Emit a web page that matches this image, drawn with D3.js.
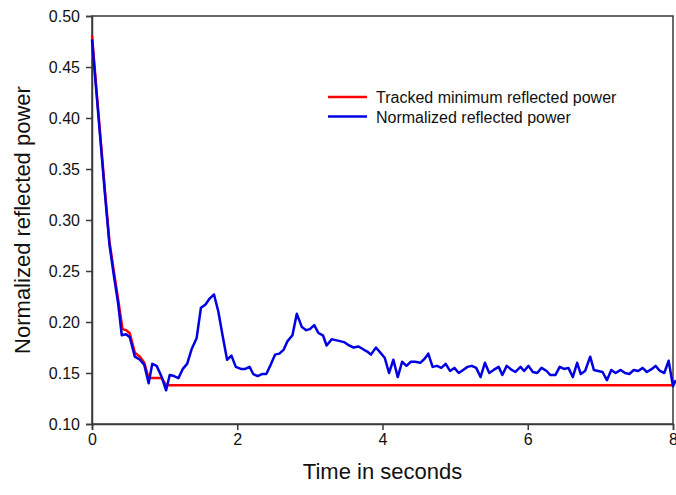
<!DOCTYPE html>
<html>
<head>
<meta charset="utf-8">
<script src="https://cdn.jsdelivr.net/npm/d3@7/dist/d3.min.js"></script>
<style>
  html, body { margin: 0; padding: 0; background: #fff; }
  svg { display: block; font-family: "Liberation Sans", Arial, sans-serif; }
</style>
</head>
<body>
<svg id="chart" width="676" height="495"></svg>
<script>
// Normalized reflected power samples (time in s, value)
const timeSec = [
  0.00, 0.06, 0.12, 0.18, 0.24, 0.30, 0.36, 0.41, 0.47, 0.52,
  0.59, 0.66, 0.72, 0.78, 0.83, 0.89, 0.96, 1.02, 1.07, 1.13,
  1.19, 1.25, 1.31, 1.37, 1.44, 1.50, 1.56, 1.62, 1.68, 1.74,
  1.80, 1.86, 1.92, 1.98, 2.05, 2.11, 2.17, 2.22, 2.28, 2.34,
  2.40, 2.46, 2.52, 2.58, 2.64, 2.69, 2.76, 2.82, 2.89, 2.95,
  3.00, 3.06, 3.12, 3.18, 3.23, 3.30, 3.37, 3.43, 3.48, 3.54,
  3.60, 3.67, 3.74, 3.79, 3.84, 3.91, 3.97, 4.03, 4.09, 4.15,
  4.21, 4.27, 4.33, 4.39, 4.45, 4.52, 4.58, 4.63, 4.69, 4.75,
  4.81, 4.87, 4.93, 4.99, 5.05, 5.11, 5.17, 5.23, 5.29, 5.35,
  5.41, 5.47, 5.53, 5.60, 5.65, 5.71, 5.78, 5.83, 5.90, 5.95,
  6.01, 6.07, 6.13, 6.19, 6.26, 6.31, 6.38, 6.44, 6.50, 6.56,
  6.62, 6.68, 6.73, 6.79, 6.86, 6.91, 6.97, 7.03, 7.09, 7.15,
  7.21, 7.28, 7.34, 7.40, 7.46, 7.52, 7.58, 7.64, 7.71, 7.76,
  7.82, 7.88, 7.94, 8.00, 8.04
];
const reflected = [
  0.477, 0.426, 0.375, 0.324, 0.276, 0.246, 0.218, 0.187, 0.188, 0.185,
  0.166, 0.163, 0.158, 0.140, 0.159, 0.157, 0.146, 0.133, 0.148, 0.147,
  0.145, 0.154, 0.159, 0.173, 0.184, 0.214, 0.217, 0.223, 0.227, 0.210,
  0.186, 0.163, 0.167, 0.156, 0.154, 0.154, 0.156, 0.149, 0.147, 0.149,
  0.149, 0.158, 0.168, 0.169, 0.173, 0.181, 0.187, 0.208, 0.195, 0.192,
  0.193, 0.197, 0.189, 0.187, 0.177, 0.183, 0.182, 0.181, 0.180, 0.177,
  0.175, 0.176, 0.173, 0.171, 0.168, 0.175, 0.170, 0.165, 0.150, 0.163,
  0.146, 0.161, 0.157, 0.161, 0.161, 0.160, 0.164, 0.169, 0.156, 0.157,
  0.155, 0.159, 0.152, 0.155, 0.150, 0.153, 0.156, 0.157, 0.155, 0.146,
  0.160, 0.150, 0.153, 0.156, 0.148, 0.157, 0.153, 0.151, 0.156, 0.152,
  0.157, 0.151, 0.150, 0.155, 0.152, 0.148, 0.148, 0.156, 0.154, 0.155,
  0.146, 0.160, 0.149, 0.152, 0.166, 0.153, 0.152, 0.151, 0.143, 0.153,
  0.150, 0.153, 0.150, 0.149, 0.153, 0.152, 0.155, 0.151, 0.154, 0.157,
  0.152, 0.150, 0.162, 0.137, 0.143
];

// Tracked minimum of the reflected power
const trackedTime = [0.00, 0.06, 0.12, 0.18, 0.24, 0.30, 0.36, 0.42, 0.47, 0.52,
                     0.59, 0.66, 0.72, 0.78, 0.96, 1.02, 8.00];
const trackedMin  = [0.481, 0.429, 0.378, 0.327, 0.279, 0.250, 0.222, 0.193, 0.192, 0.189,
                     0.170, 0.166, 0.160, 0.145, 0.145, 0.138, 0.138];

const xTicks = [0, 2, 4, 6, 8];
const yTicks = [0.10, 0.15, 0.20, 0.25, 0.30, 0.35, 0.40, 0.45, 0.50];

const seriesNames = ["Tracked minimum reflected power", "Normalized reflected power"];
const seriesColors = ["#ff0000", "#0000e0"];

const svg = d3.select("#chart");
const plotLeft = 92, plotRight = 673, plotTop = 16, plotBottom = 424;

const x = d3.scaleLinear().domain([0, 8]).range([plotLeft, plotRight]);
const y = d3.scaleLinear().domain([0.10, 0.50]).range([plotBottom, plotTop]);

const axisColor = "#3a3a3a";

// Frame
svg.append("rect")
  .attr("x", plotLeft).attr("y", plotTop)
  .attr("width", plotRight - plotLeft).attr("height", plotBottom - plotTop)
  .attr("fill", "none").attr("stroke", axisColor).attr("stroke-width", 1.5);

// Axes
const gx = svg.append("g")
  .attr("transform", `translate(0,${plotBottom})`)
  .call(d3.axisBottom(x).tickValues(xTicks).tickSize(6).tickPadding(4)
        .tickFormat(d3.format("d")));
const gy = svg.append("g")
  .attr("transform", `translate(${plotLeft},0)`)
  .call(d3.axisLeft(y).tickValues(yTicks).tickSize(6).tickPadding(6)
        .tickFormat(d3.format(".2f")));

[gx, gy].forEach(g => {
  g.select(".domain").attr("stroke", axisColor).attr("stroke-width", 1.5);
  g.selectAll(".tick line").attr("stroke", axisColor).attr("stroke-width", 1.5);
  g.selectAll(".tick text")
    .attr("fill", "#111")
    .style("font-size", "16px")
    .style("font-family", "'Liberation Sans', Arial, sans-serif");
});

// Lines
const line = d3.line().x(d => x(d[0])).y(d => y(d[1]));

svg.append("path")
  .datum(d3.zip(trackedTime, trackedMin))
  .attr("d", line)
  .attr("fill", "none")
  .attr("stroke", seriesColors[0])
  .attr("stroke-width", 2.5)
  .attr("stroke-linejoin", "round");

svg.append("path")
  .datum(d3.zip(timeSec, reflected))
  .attr("d", line)
  .attr("fill", "none")
  .attr("stroke", seriesColors[1])
  .attr("stroke-width", 2.5)
  .attr("stroke-linejoin", "round");

// Axis titles
svg.append("text")
  .attr("x", (plotLeft + plotRight) / 2).attr("y", 479)
  .attr("text-anchor", "middle")
  .attr("fill", "#111")
  .style("font-size", "22px")
  .text("Time in seconds");

svg.append("text")
  .attr("transform", `translate(30,${(plotTop + plotBottom) / 2}) rotate(-90)`)
  .attr("text-anchor", "middle")
  .attr("fill", "#111")
  .style("font-size", "22px")
  .text("Normalized reflected power");

// Legend
const legend = svg.append("g").attr("transform", "translate(328,97)");
seriesNames.forEach((name, i) => {
  const row = legend.append("g").attr("transform", `translate(0,${i * 19.5})`);
  row.append("line")
    .attr("x1", 0).attr("x2", 39).attr("y1", 0).attr("y2", 0)
    .attr("stroke", seriesColors[i]).attr("stroke-width", 2.5);
  row.append("text")
    .attr("x", 48).attr("y", 6)
    .attr("fill", "#111")
    .style("font-size", "16px")
    .text(name);
});
</script>
</body>
</html>
